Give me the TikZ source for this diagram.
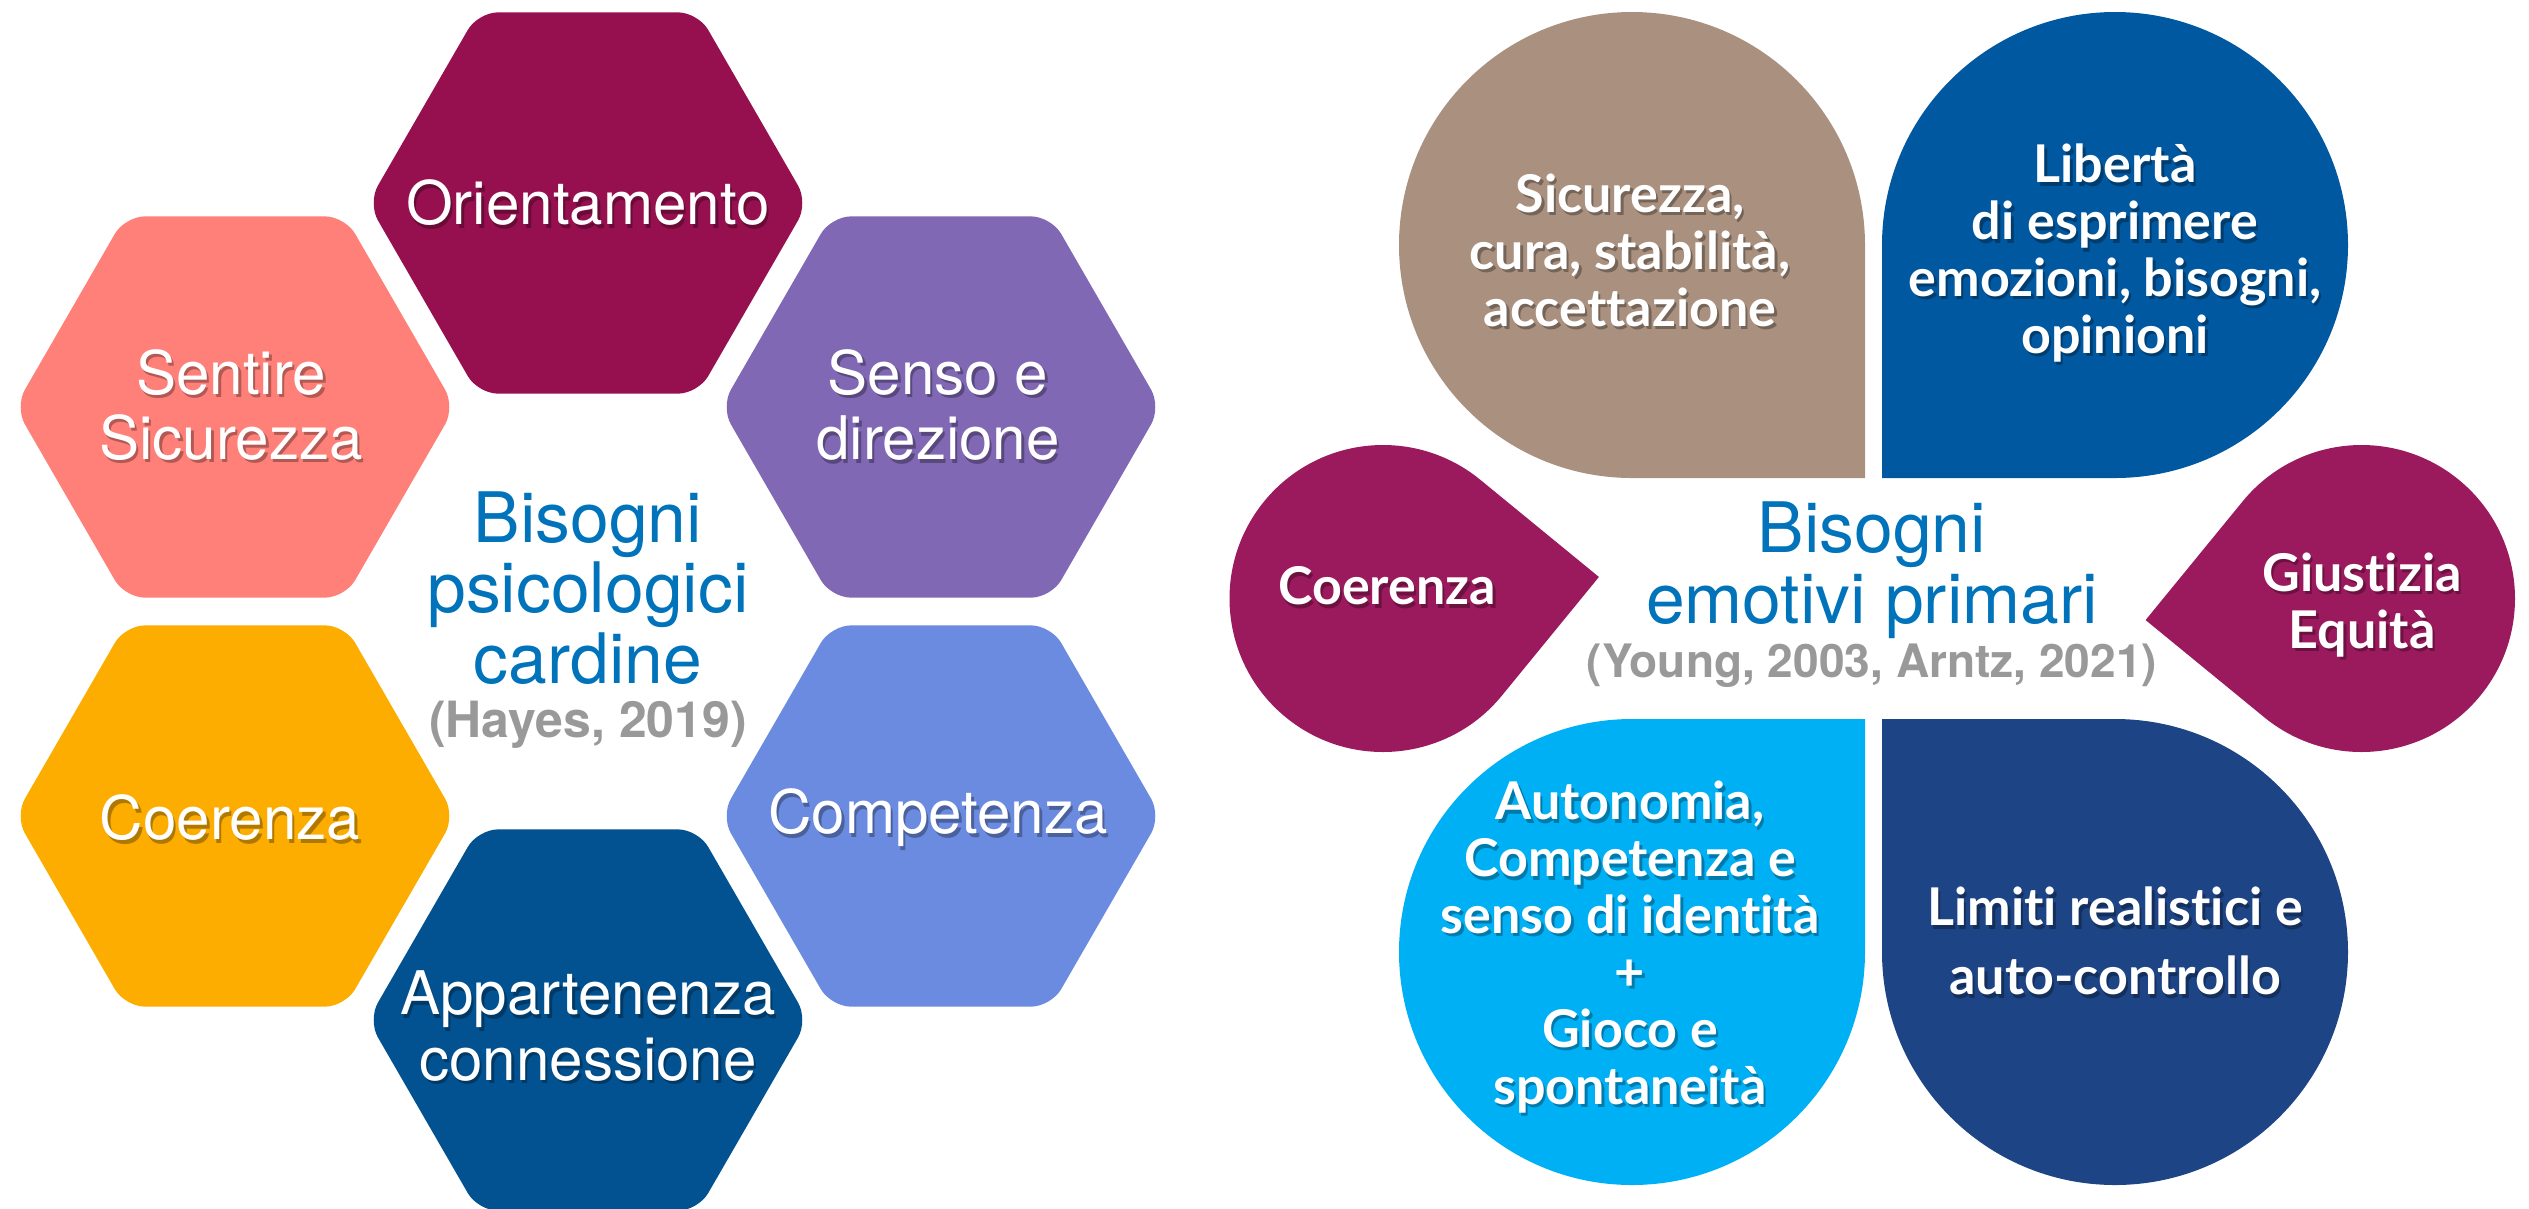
\documentclass[tikz,border=0pt]{standalone}
\usepackage{fontspec}
\setmainfont{TeX Gyre Heros}
\newfontfamily\latofont[Ligatures=NoCommon]{Lato}
\usetikzlibrary{
  shapes.geometric,
  positioning,
  calc}
\definecolor{orientcolor}{RGB}{150,16,80}
\definecolor{sentirecolor}{RGB}{255,128,120}
\definecolor{sensocolor}{RGB}{128,104,180}
\definecolor{coerhexcolor}{RGB}{252,173,0}
\definecolor{competcolor}{RGB}{107,139,224}
\definecolor{appartcolor}{RGB}{2,82,145}
\definecolor{titlecolor}{RGB}{0,115,187}
\definecolor{citecolor}{RGB}{153,153,153}
\definecolor{sicurcolor}{RGB}{169,144,127}
\definecolor{libercolor}{RGB}{0,88,160}
\definecolor{coercolor}{RGB}{155,25,93}
\definecolor{autocolor}{RGB}{0,176,245}
\definecolor{limiticolor}{RGB}{29,68,133}
\tikzset{
  %% shtext : white text with a soft shadow
  shtext/.pic = {
    \node (-sh) [text=black, text opacity=0.3, xshift=0.025cm, yshift=-0.035cm] {#1};
    \node (-t) {#1};
  }
}
\tikzset{
  %% hexa : one cell of the honeycomb
  hexa/.style={
    regular polygon,
    regular polygon sides=6,
    minimum size=4.4cm,
    inner sep=0pt,
    rounded corners=0.2cm
  },
  %% hextext : text in a cell
  hextext/.style={
    text=white,
    font=\fontsize{17.1}{18.5}\selectfont,
    align=center
  },
  %% droptext : text on a round need shape
  droptext/.style={
    text=white,
    font=\latofont\bfseries\fontsize{14.8}{16.2}\selectfont,
    align=center
  },
  %% hubtitle : title in the middle of a figure
  hubtitle/.style={
    text=titlecolor,
    font=\fontsize{19.8}{20.1}\selectfont,
    align=center
  },
  %% hubcite : reference under the title
  hubcite/.style={
    text=citecolor,
    font=\bfseries\fontsize{14.2}{15}\selectfont,
    anchor=base
  }
}

\begin{document}
\begin{tikzpicture}
  [x=0.01cm,
  y=-0.01cm]
  \useasboundingbox (0,0) rectangle (2529,1208);

  %% Honeycomb (left)
  \node (orient) [hexa, fill=orientcolor] at (588,203) {};
  \node (sentire) [hexa, fill=sentirecolor] at (235,407) {};
  \node (senso) [hexa, fill=sensocolor] at (941,407) {};
  \node (coerhex) [hexa, fill=coerhexcolor] at (235,816) {};
  \node (compet) [hexa, fill=competcolor] at (941,816) {};
  \node (appart) [hexa, fill=appartcolor] at (588,1020) {};

  \pic (orienttxt) [hextext] at (orient) {shtext={Orientamento}};
  \pic (sentiretxt) [hextext] at (231,405) {shtext={Sentire\\Sicurezza}};
  \pic (sensotxt) [hextext] at (938,405) {shtext={Senso e\\direzione}};
  \pic (coerhextxt) [hextext] at (230,818) {shtext={Coerenza}};
  \pic (compettxt) [hextext] at (938,818) {shtext={Competenza}};
  \pic (apparttxt) [hextext] at (588,1026) {shtext={Appartenenza\\connessione}};

  \node (hextitle) [hubtitle] at (588,588) {Bisogni\\psicologici\\cardine};
  \node (hexcite) [hubcite] at (588,737) {(Hayes, 2019)};

  %% Needs (right)
  \fill [sicurcolor] (1865,245) -- (1865,478) -- (1632,478)
    arc[start angle=90, end angle=360, radius=233] -- cycle;
  \fill [libercolor] (2115,478) -- (1882,478) -- (1882,245)
    arc[start angle=180, end angle=450, radius=233] -- cycle;
  \fill [autocolor] (1632,719) -- (1865,719) -- (1865,952)
    arc[start angle=0, end angle=270, radius=233] -- cycle;
  \fill [limiticolor] (1882,952) -- (1882,719) -- (2115,719)
    arc[start angle=270, end angle=540, radius=233] -- cycle;

  % drops pointing to the middle
  \coordinate (coerc) at (1383,598.5);
  \coordinate (giustc) at (2361.5,598.5);
  \fill [coercolor] ($(coerc)+(-5.7:217)$) -- ($(coerc)+(39.3:153.5)$)
    arc[start angle=39.3, end angle=309.3, radius=153.5] -- cycle;
  \fill [coercolor] ($(giustc)+(174.3:217)$) -- ($(giustc)+(219.3:153.5)$)
    arc[start angle=219.3, end angle=489.3, radius=153.5] -- cycle;

  \pic (sicur) [droptext] at (1630,250) {shtext={%
    Sicurezza,\\cura, stabilità,\\accettazione}};
  \pic (liberta) [droptext] at (2115,253) {shtext={%
    Libertà\\di esprimere\\emozioni, bisogni,\\opinioni}};
  \pic (coer) [droptext] at (1387,586) {shtext={Coerenza}};
  \pic (giust) [droptext] at (2362,605) {shtext={Giustizia\\Equità}};
  \pic (auto) [droptext] at (1630,947) {shtext={%
    Autonomia,\\Competenza e\\senso di identità\\+\\Gioco e\\spontaneità}};
  \pic (limiti) [droptext, font=\latofont\bfseries\fontsize{14.8}{19.6}\selectfont]
    at (2115,941) {shtext={Limiti realistici e\\auto-controllo}};

  \node (needtitle) [hubtitle] at (1872,570) {Bisogni\\emotivi primari};
  \node (needcite) [hubcite, font=\bfseries\fontsize{13.1}{14}\selectfont]
    at (1872,677) {(Young, 2003, Arntz, 2021)};

\end{tikzpicture}
\end{document}
